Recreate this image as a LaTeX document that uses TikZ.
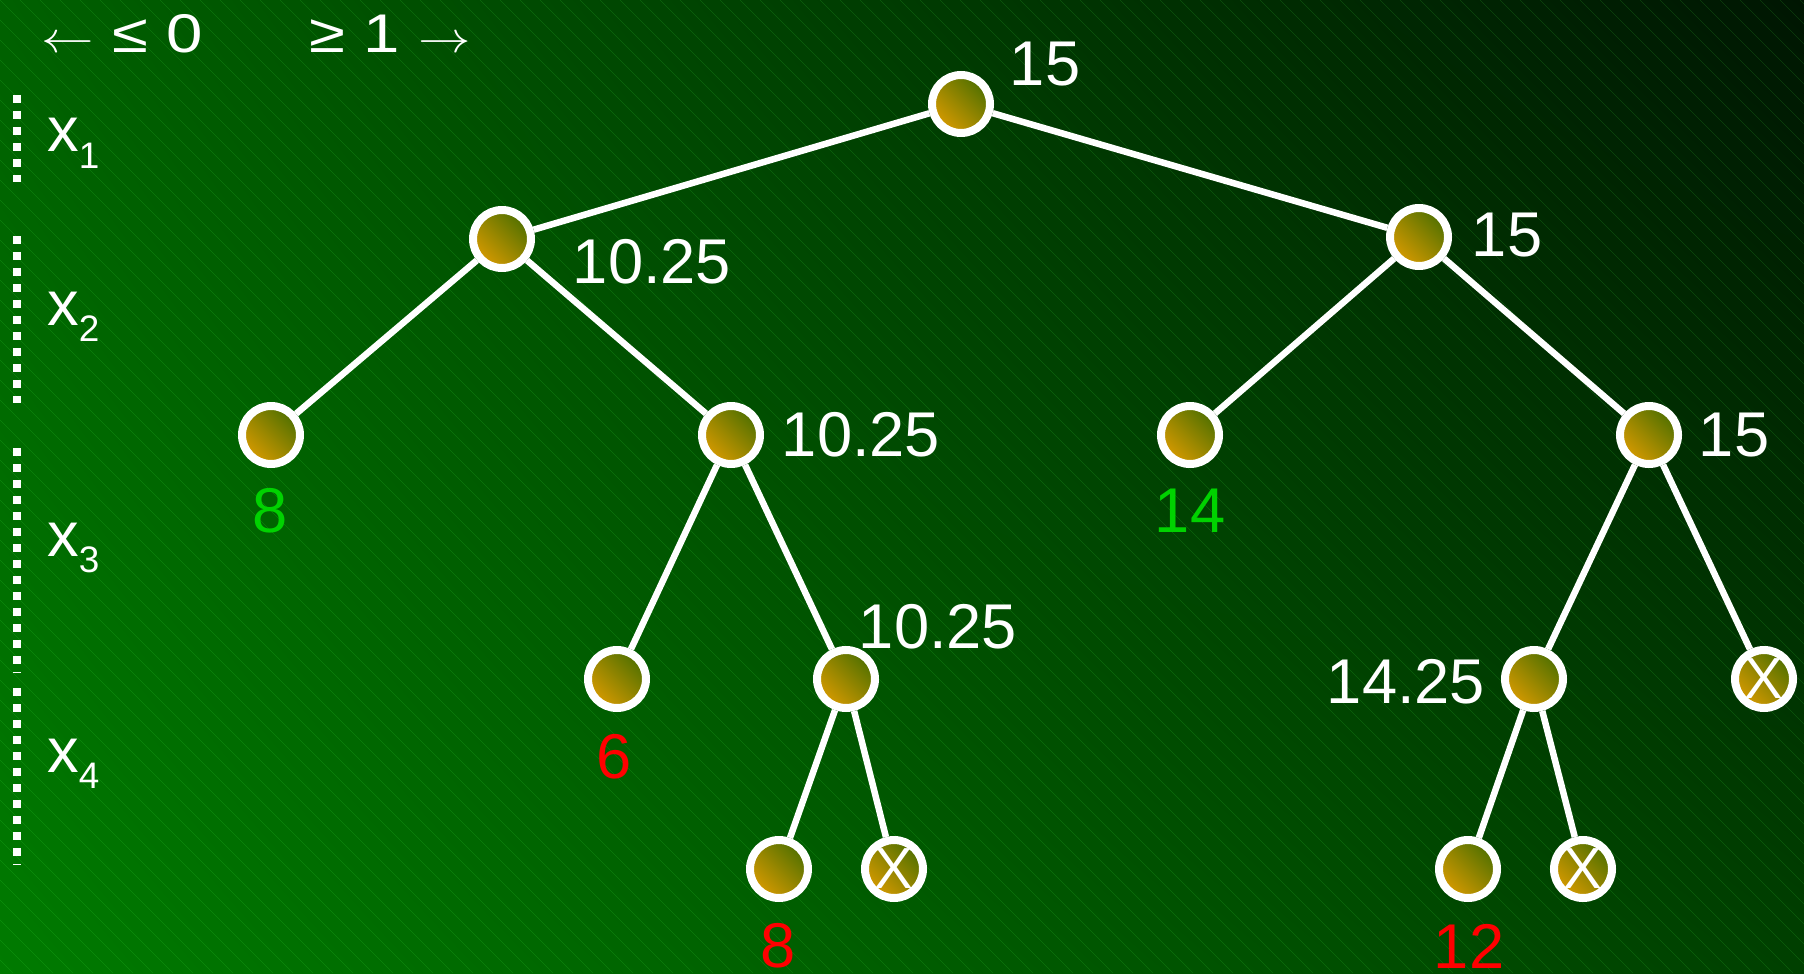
\documentclass[tikz,border=0pt]{standalone}
\usepackage{fontspec}
\setmainfont{Liberation Sans}
\usepackage{xcolor}
\definecolor{bgBright}{RGB}{0,122,0}
\definecolor{bgMid}{RGB}{0,96,0}
\definecolor{bgLow}{RGB}{0,64,0}
\definecolor{bgDark}{RGB}{0,22,2}
\definecolor{nodeOlive}{RGB}{80,112,0}
\definecolor{nodeAmber}{RGB}{214,154,0}
\definecolor{leafGreen}{RGB}{0,210,0}
\definecolor{leafRed}{RGB}{255,0,0}
\usetikzlibrary{positioning,shadings}
\tikzset{
  tree node/.style={circle, draw=white, line width=0.16cm, minimum size=1.16cm, inner sep=0pt, left color=nodeOlive, right color=nodeAmber, shading angle=-45},
  cut node/.style={tree node, text=white, font=\fontsize{33}{36}\selectfont},
  tree edge/.style={draw=white, line width=0.13cm},
  bound label/.style={text=white, inner sep=0pt, font=\fontsize{36}{40}\selectfont},
  leaf good/.style={bound label, text=leafGreen},
  leaf bad/.style={bound label, text=leafRed},
  legend label/.style={text=white, inner sep=0pt, font=\fontsize{31}{35}\selectfont},
  level label/.style={text=white, inner sep=0pt, anchor=base west, font=\fontsize{36}{40}\selectfont},
  level bar/.style={draw=white, line width=0.16cm, dash pattern=on 0.16cm off 0.16cm},
  hatch line/.style={draw=green!70!white, draw opacity=0.16, line width=0.012cm},
}
\newcommand\lvsub[1]{\raisebox{-0.26em}{\fontsize{21}{24}\selectfont #1}}

\begin{document}
\begin{tikzpicture}[x=0.02cm, y=-0.02cm]
  \useasboundingbox (0,0) rectangle (1804,973);
  % background
  \shade[shading=bilinear interpolation, lower left=bgBright, upper left=bgMid, lower right=bgLow, upper right=bgDark] (0,0) rectangle (1804,973);
  \begin{scope}
    \clip (0,0) rectangle (1804,973);
    \foreach \h in {-980,-960,...,1800}
      \draw[hatch line] (\h,0) -- (\h+973,973);
  \end{scope}

  % legend and levels
  \node[legend label] (lo) at (122,34) {\scalebox{1.2}[1]{$\leftarrow$ ≤ 0}};
  \node[legend label] (hi) at (390,34) {\scalebox{1.2}[1]{≥ 1 $\rightarrow$}};
  \draw[level bar] (17,95) -- (17,182);
  \draw[level bar] (17,236) -- (17,403);
  \draw[level bar] (17,448) -- (17,672);
  \draw[level bar] (17,688) -- (17,865);
  \node[level label] (x1) at (47,152) {x\lvsub{1}};
  \node[level label] (x2) at (47,325) {x\lvsub{2}};
  \node[level label] (x3) at (47,556) {x\lvsub{3}};
  \node[level label] (x4) at (47,772) {x\lvsub{4}};

  % tree
  \node[tree node] (root) at (961,104) {};
  \node[tree node] (l) at (502,239) {};
  \node[tree node] (r) at (1419,237) {};
  \node[tree node] (ll) at (271,435) {};
  \node[tree node] (lr) at (731,435) {};
  \node[tree node] (rl) at (1190,435) {};
  \node[tree node] (rr) at (1649,435) {};
  \node[tree node] (lrl) at (617,679) {};
  \node[tree node] (lrr) at (846,679) {};
  \node[tree node] (rrl) at (1534,679) {};
  \node[cut node] (rrr) at (1764,679) {X};
  \node[tree node] (lrrl) at (779,869) {};
  \node[cut node] (lrrr) at (894,869) {X};
  \node[tree node] (rrll) at (1468,869) {};
  \node[cut node] (rrlr) at (1583,869) {X};

  \draw[tree edge] (root) -- (l);
  \draw[tree edge] (root) -- (r);
  \draw[tree edge] (l) -- (ll);
  \draw[tree edge] (l) -- (lr);
  \draw[tree edge] (r) -- (rl);
  \draw[tree edge] (r) -- (rr);
  \draw[tree edge] (lr) -- (lrl);
  \draw[tree edge] (lr) -- (lrr);
  \draw[tree edge] (rr) -- (rrl);
  \draw[tree edge] (rr) -- (rrr);
  \draw[tree edge] (lrr) -- (lrrl);
  \draw[tree edge] (lrr) -- (lrrr);
  \draw[tree edge] (rrl) -- (rrll);
  \draw[tree edge] (rrl) -- (rrlr);

  % bounds
  \node[bound label] (rootv) at (1045,64) {15};
  \node[bound label] (lv) at (652,262) {10.25};
  \node[bound label] (rv) at (1507,235) {15};
  \node[bound label] (lrv) at (861,435) {10.25};
  \node[bound label] (rrv) at (1734,435) {15};
  \node[bound label] (lrrv) at (938,627) {10.25};
  \node[bound label] (rrlv) at (1406,682) {14.25};
  \node[leaf good] (llv) at (270,511) {8};
  \node[leaf good] (rlv) at (1190,511) {14};
  \node[leaf bad] (lrlv) at (614,757) {6};
  \node[leaf bad] (lrrlv) at (778,946) {8};
  \node[leaf bad] (rrllv) at (1469,946) {12};
\end{tikzpicture}
\end{document}
